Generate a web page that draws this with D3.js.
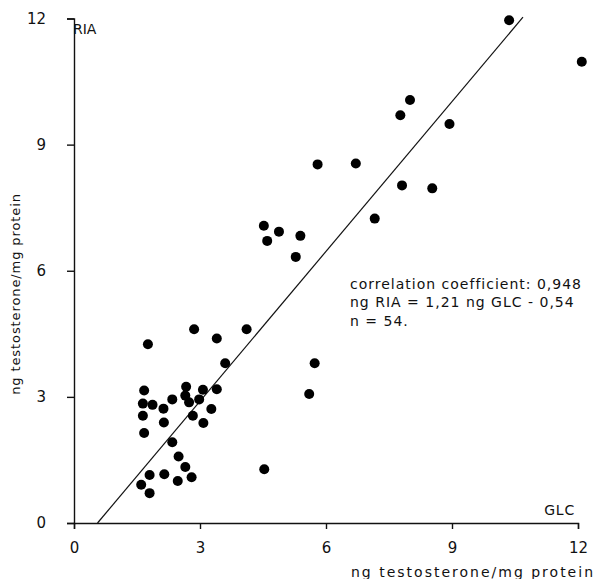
<!DOCTYPE html>
<html>
<head>
<meta charset="utf-8">
<script src="https://cdn.jsdelivr.net/npm/d3@7"></script>
<style>
  body { margin: 0; background: #fff; }
  #viz_container { width: 598px; height: 579px; }
  text { font-family: 'DejaVu Sans', sans-serif; fill: #111; }
</style>
</head>
<body>
<div id="viz_container"></div>
<script>
//Data/////////////////////////////////////////////////////
// GLC (x) vs RIA (y), ng testosterone / mg protein
const glc = [2.86, 4.11, 1.76, 3.40, 3.60, 2.67, 1.67, 3.07, 3.40, 2.34,
             2.65, 2.74, 2.98, 1.64, 1.87, 2.13, 3.27, 1.64, 2.83, 2.14,
             3.08, 1.67, 2.34, 2.49, 2.65, 4.53, 1.80, 2.15, 2.80, 2.47,
             1.60, 1.80, 4.52, 4.88, 4.60, 5.39, 5.28, 5.73, 5.60, 10.36,
             12.09, 8.00, 7.77, 8.94, 5.80, 6.71, 7.81, 8.53, 7.16];
const ria = [4.61, 4.61, 4.25, 4.39, 3.80, 3.24, 3.15, 3.17, 3.18, 2.94,
             3.03, 2.87, 2.94, 2.84, 2.81, 2.72, 2.71, 2.55, 2.55, 2.39,
             2.38, 2.14, 1.92, 1.58, 1.33, 1.28, 1.14, 1.16, 1.09, 1.00,
             0.91, 0.71, 7.07, 6.93, 6.71, 6.83, 6.33, 3.80, 3.07, 11.96,
             10.97, 10.06, 9.70, 9.49, 8.53, 8.55, 8.03, 7.96, 7.24];

// regression line as drawn (end points)
const fitX = [0.56, 10.69];
const fitY = [0, 12.03];

const tickVals = [0, 3, 6, 9, 12];
const statLines = ["correlation coefficient: 0,948",
                   "ng RIA = 1,21 ng GLC - 0,54",
                   "n = 54."];

// dimensions
const margin = {top: 18.5, right: 20, bottom: 56, left: 74};
const width = 504;
const height = 504.5;

const svg = d3.select("#viz_container")
  .append("svg")
    .attr("width", 598)
    .attr("height", 579)
  .append("g")
    .attr("transform", `translate(${margin.left}, ${margin.top})`);

const xScale = d3.scaleLinear().domain([0, 12]).range([0, width]);
const yScale = d3.scaleLinear().domain([0, 12]).range([height, 0]);

// X axis
const xAxis = svg.append("g")
    .attr("transform", `translate(0,${height})`)
    .call(d3.axisBottom(xScale).tickValues(tickVals).tickSizeOuter(0).tickSize(6).tickPadding(13));

// Y axis
const yAxis = svg.append("g")
    .call(d3.axisLeft(yScale).tickValues(tickVals).tickSizeOuter(0).tickSize(7).tickPadding(21));

[xAxis, yAxis].forEach(a => {
  a.select(".domain").attr("stroke", "#111").attr("stroke-width", 1.4);
  a.selectAll(".tick line").attr("stroke", "#111").attr("stroke-width", 1.4);
  a.selectAll(".tick text")
    .style("font-family", "'DejaVu Sans', sans-serif")
    .style("font-size", "15px")
    .attr("fill", "#111");
});

// regression line
svg.append("line")
    .attr("x1", xScale(fitX[0]))
    .attr("y1", yScale(fitY[0]))
    .attr("x2", xScale(fitX[1]))
    .attr("y2", yScale(fitY[1]))
    .attr("stroke", "#111")
    .attr("stroke-width", 1.2);

// points
svg.append("g")
  .selectAll("circle")
  .data(glc.map((g, i) => ({x: g, y: ria[i]})))
  .join("circle")
    .attr("cx", d => xScale(d.x))
    .attr("cy", d => yScale(d.y))
    .attr("r", 5)
    .attr("fill", "#000");

// corner labels
svg.append("text")
    .attr("x", -1)
    .attr("y", 15)
    .style("font-size", "14px")
    .text("RIA");

svg.append("text")
    .attr("x", width - 3)
    .attr("y", height - 8)
    .attr("text-anchor", "end")
    .style("font-size", "14px")
    .style("letter-spacing", "0.8px")
    .text("GLC");

// stats
svg.append("g")
  .selectAll("text")
  .data(statLines)
  .join("text")
    .attr("x", 276)
    .attr("y", (d, i) => 270 + i * 18.5)
    .style("font-size", "14px")
    .style("letter-spacing", "1px")
    .text(d => d);

// axis titles
svg.append("text")
    .attr("x", width + 17)
    .attr("y", height + 54)
    .attr("text-anchor", "end")
    .style("font-size", "14px")
    .style("letter-spacing", "2px")
    .text("ng testosterone/mg protein");

svg.append("text")
    .attr("transform", "rotate(-90)")
    .attr("x", -275.5)
    .attr("y", -54)
    .attr("text-anchor", "middle")
    .style("font-size", "13px")
    .style("letter-spacing", "0.9px")
    .text("ng testosterone/mg protein");
</script>
</body>
</html>
